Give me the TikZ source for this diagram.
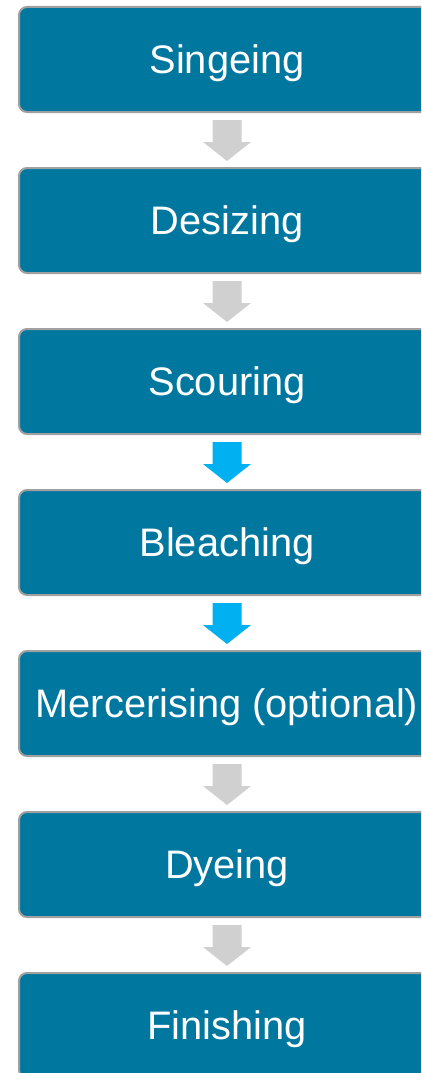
\documentclass[tikz,border=0pt]{standalone}
\usepackage{fontspec}
\setmainfont{Liberation Sans}
\usetikzlibrary{calc}
\definecolor{boxblue}{HTML}{00779F}
\definecolor{boxedge}{HTML}{A0A0A0}
\definecolor{arrgray}{HTML}{D0D0D0}
\definecolor{arrblue}{HTML}{00B0F0}
\tikzset{
  stepbox/.style={draw=boxedge, line width=2pt, fill=boxblue, rounded corners=8pt,
    minimum width=416pt, minimum height=105pt, inner sep=0pt,
    text=white, font=\fontsize{39.8}{40}\selectfont, text height=28pt, text depth=0pt},
  grayarrow/.style={fill=arrgray},
  bluearrow/.style={fill=arrblue}
}
\newcommand\blockarrow[3]{%
  \fill[#3] ($(#1.south)+(-14.5,7)$) -- ($(#1.south)+(14.5,7)$) -- ($(#1.south)+(14.5,29)$)
    -- ($(#1.south)+(24,29)$) -- ($(#2.north)+(0,-6)$) -- ($(#1.south)+(-24,29)$)
    -- ($(#1.south)+(-14.5,29)$) -- cycle;}
\begin{document}
\begin{tikzpicture}[x=1pt,y=-1pt]
\useasboundingbox (0,0) rectangle (421,1073);
\clip (0,0) rectangle (421,1073);
\node[stepbox] (n1) at (227,59.5) {Singeing};
\node[stepbox] (n2) at (227,220.5) {Desizing};
\node[stepbox] (n3) at (227,381.5) {Scouring};
\node[stepbox] (n4) at (227,542.5) {Bleaching};
\node[stepbox] (n5) at (227,703.5) {Mercerising (optional)};
\node[stepbox] (n6) at (227,864.5) {Dyeing};
\node[stepbox] (n7) at (227,1025.5) {Finishing};
\blockarrow{n1}{n2}{grayarrow}
\blockarrow{n2}{n3}{grayarrow}
\blockarrow{n3}{n4}{bluearrow}
\blockarrow{n4}{n5}{bluearrow}
\blockarrow{n5}{n6}{grayarrow}
\blockarrow{n6}{n7}{grayarrow}
\end{tikzpicture}
\end{document}
